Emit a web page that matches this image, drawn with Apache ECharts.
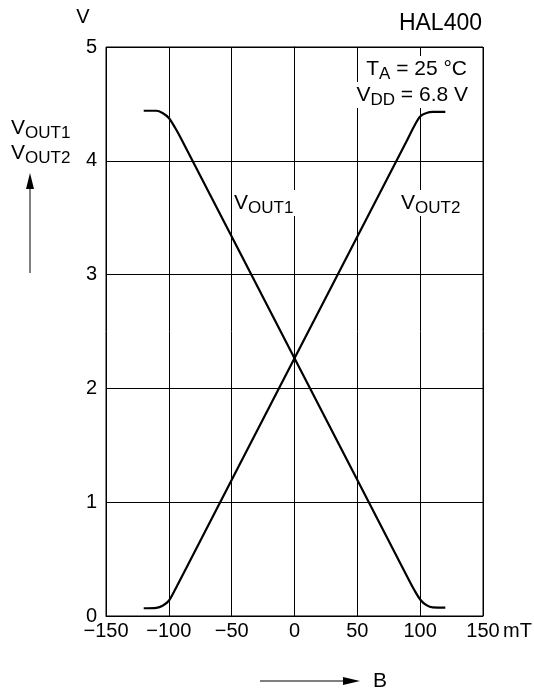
<!DOCTYPE html>
<html>
<head>
<meta charset="utf-8">
<title>HAL400</title>
<script src="https://cdn.jsdelivr.net/npm/echarts@6/dist/echarts.min.js"></script>
<style>
  html, body { margin: 0; padding: 0; background: #fff; }
  #chart { width: 534px; height: 695px; }
</style>
</head>
<body>
<div id="chart"></div>
<script>
// magnetic field B (mT) sample points
const bField = [-120, -110, -105, -100, -95, -90, 0, 90, 95, 100, 105, 110, 120];
// output voltages (V)
const vOut1 = [4.44, 4.44, 4.42, 4.376, 4.29, 4.19, 2.265, 0.339, 0.235, 0.145, 0.095, 0.075, 0.073];
const vOut2 = [0.068, 0.072, 0.09, 0.134, 0.232, 0.339, 2.265, 4.19, 4.30, 4.39, 4.42, 4.43, 4.43];
// axis ticks
const xTicks = { min: -150, max: 150, interval: 50 };
const yTicks = { min: 0, max: 5, interval: 1 };

const FONT = "'Liberation Sans', Arial, sans-serif";

// V with a subscript, as rich text
function subText(main, sub) {
  return '{m|' + main + '}{s|' + sub + '}';
}
const richSub = {
  m: { fontSize: 21, fontFamily: FONT, lineHeight: 26, fill: '#000', color: '#000' },
  s: { fontSize: 17, fontFamily: FONT, lineHeight: 26, padding: [10, 0, 0, 0], fill: '#000', color: '#000' }
};

const chartDom = document.getElementById('chart');
const myChart = echarts.init(chartDom);

function minusFmt(v) {
  return v < 0 ? '\u2212' + (-v) : String(v);
}

const option = {
  animation: false,
  backgroundColor: '#fff',
  textStyle: { fontFamily: FONT, color: '#000' },
  grid: {
    left: 106,
    right: 51,
    top: 47,
    bottom: 79,
    show: true,
    borderColor: '#000',
    borderWidth: 1
  },
  xAxis: {
    type: 'value',
    min: xTicks.min,
    max: xTicks.max,
    interval: xTicks.interval,
    axisLine: { show: true, lineStyle: { color: '#000', width: 1 } },
    axisTick: { show: false },
    axisLabel: { formatter: minusFmt, fontSize: 20, color: '#000', margin: 5, fontFamily: FONT },
    splitLine: { show: true, lineStyle: { color: '#000', width: 1 } }
  },
  yAxis: {
    type: 'value',
    min: yTicks.min,
    max: yTicks.max,
    interval: yTicks.interval,
    axisLine: { show: true, lineStyle: { color: '#000', width: 1 } },
    axisTick: { show: false },
    axisLabel: { fontSize: 20, color: '#000', margin: 9, fontFamily: FONT },
    splitLine: { show: true, lineStyle: { color: '#000', width: 1 } }
  },
  series: [
    {
      name: 'VOUT1',
      type: 'line',
      showSymbol: false,
      smooth: 0.3,
      lineStyle: { color: '#000', width: 2.2 },
      data: bField.map((b, i) => [b, vOut1[i]])
    },
    {
      name: 'VOUT2',
      type: 'line',
      showSymbol: false,
      smooth: 0.3,
      lineStyle: { color: '#000', width: 2.2 },
      data: bField.map((b, i) => [b, vOut2[i]])
    }
  ],
  graphic: [
    // title and units
    { type: 'text', z: 100, style: { text: 'HAL400', x: 482, y: 24, align: 'right', verticalAlign: 'middle', font: '23px ' + FONT, fill: '#000' } },
    { type: 'text', z: 100, style: { text: 'V', x: 83, y: 17, align: 'center', verticalAlign: 'middle', font: '20px ' + FONT, fill: '#000' } },
    { type: 'text', z: 100, style: { text: 'mT', x: 503, y: 631, align: 'left', verticalAlign: 'middle', font: '20px ' + FONT, fill: '#000' } },
    // conditions
    { type: 'text', z: 100, style: { text: subText('T', 'A') + '{m| = 25 \u00b0C}', rich: richSub, x: 469, y: 69, align: 'right', verticalAlign: 'middle', backgroundColor: '#fff', padding: [0, 2, 0, 2] } },
    { type: 'text', z: 100, style: { text: subText('V', 'DD') + '{m| = 6.8 V}', rich: richSub, x: 470, y: 95, align: 'right', verticalAlign: 'middle', backgroundColor: '#fff', padding: [0, 2, 0, 2] } },
    // curve labels
    { type: 'text', z: 100, style: { text: subText('V', 'OUT1'), rich: richSub, x: 232, y: 203, align: 'left', verticalAlign: 'middle', backgroundColor: '#fff', padding: [0, 2, 0, 2] } },
    { type: 'text', z: 100, style: { text: subText('V', 'OUT2'), rich: richSub, x: 399, y: 203, align: 'left', verticalAlign: 'middle', backgroundColor: '#fff', padding: [0, 2, 0, 2] } },
    // y axis quantity
    { type: 'text', z: 100, style: { text: subText('V', 'OUT1'), rich: richSub, x: 11, y: 128, align: 'left', verticalAlign: 'middle' } },
    { type: 'text', z: 100, style: { text: subText('V', 'OUT2'), rich: richSub, x: 11, y: 153, align: 'left', verticalAlign: 'middle' } },
    { type: 'line', z: 100, shape: { x1: 30, y1: 273, x2: 30, y2: 186 }, style: { stroke: '#555', lineWidth: 1.5 } },
    { type: 'polygon', z: 100, shape: { points: [[30, 173], [26, 189], [34, 189]] }, style: { fill: '#000' } },
    // x axis quantity
    { type: 'line', z: 100, shape: { x1: 260, y1: 681, x2: 346, y2: 681 }, style: { stroke: '#000', lineWidth: 1.2 } },
    { type: 'polygon', z: 100, shape: { points: [[360, 681], [343, 677], [343, 685]] }, style: { fill: '#000' } },
    { type: 'text', z: 100, style: { text: 'B', x: 373, y: 681, align: 'left', verticalAlign: 'middle', font: '21px ' + FONT, fill: '#000' } }
  ]
};

option && myChart.setOption(option);
</script>
</body>
</html>
